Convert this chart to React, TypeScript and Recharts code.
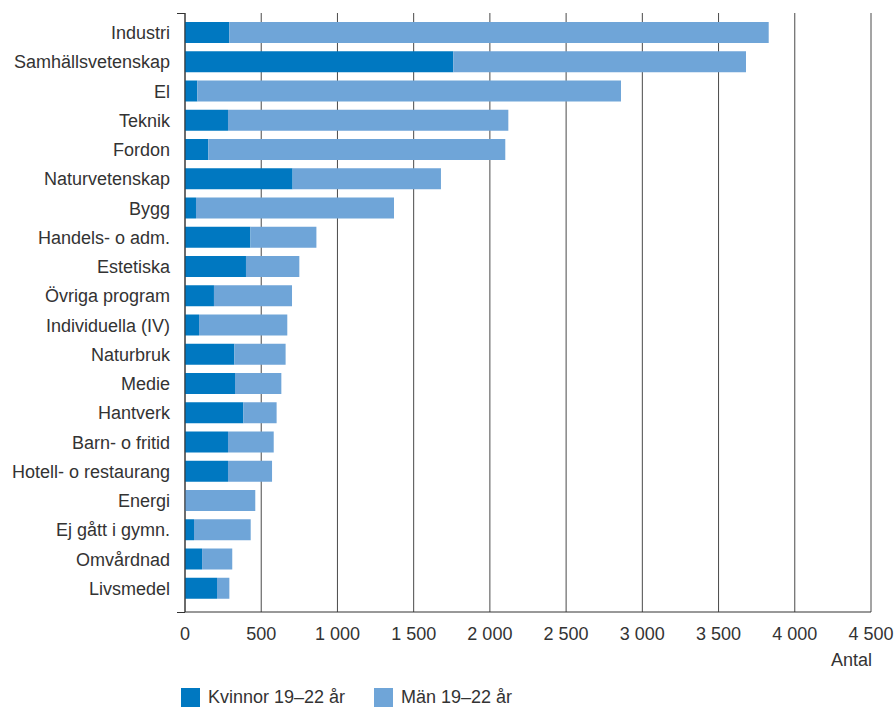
import { BarChart, Bar, XAxis, YAxis, CartesianGrid } from 'recharts'

// Program categories, top to bottom
const categories = [
  'Industri',
  'Samhällsvetenskap',
  'El',
  'Teknik',
  'Fordon',
  'Naturvetenskap',
  'Bygg',
  'Handels- o adm.',
  'Estetiska',
  'Övriga program',
  'Individuella (IV)',
  'Naturbruk',
  'Medie',
  'Hantverk',
  'Barn- o fritid',
  'Hotell- o restaurang',
  'Energi',
  'Ej gått i gymn.',
  'Omvårdnad',
  'Livsmedel',
]

const kvinnor = [291, 1760, 81, 282, 153, 706, 72, 429, 400, 190, 92, 324, 328, 383, 282, 282, 0, 59, 112, 210]
const man = [3538, 1920, 2779, 1839, 1948, 973, 1299, 433, 350, 512, 579, 336, 304, 218, 300, 289, 461, 372, 198, 81]

const xTicks = [0, 500, 1000, 1500, 2000, 2500, 3000, 3500, 4000, 4500]

const DARK = '#0078c1'
const LIGHT = '#6fa5d8'
const TEXT = '#333333'
const AXIS = '#333333'
const FONT = '"Liberation Sans", Arial, sans-serif'
const FS = 18

const data = categories.map((name, i) => ({ name, kvinnor: kvinnor[i], man: man[i] }))

// "1 000" style thousands separator
const fmt = (v: number) => v.toLocaleString('en-US').replace(/,/g, ' ')

function LegendItem({ color, label, left }: { color: string; label: string; left: number }) {
  return (
    <div style={{ position: 'absolute', left, top: 688, display: 'flex', alignItems: 'center', fontSize: FS, lineHeight: '19px' }}>
      <span style={{ width: 19, height: 19, background: color, display: 'inline-block', marginRight: 8 }} />
      <span>{label}</span>
    </div>
  )
}

export default function App() {
  return (
    <div
      style={{
        position: 'absolute',
        left: 0,
        top: 0,
        width: 896,
        height: 707,
        overflow: 'hidden',
        fontFamily: FONT,
        color: TEXT,
      }}
    >
      <BarChart
        layout="vertical"
        width={896}
        height={707}
        data={data}
        margin={{ top: 13, right: 25, bottom: 65, left: 0 }}
      >
        <CartesianGrid horizontal={false} stroke="#4a4a4a" />
        <XAxis
          type="number"
          domain={[0, 4500]}
          ticks={xTicks}
          tickFormatter={fmt}
          interval={0}
          height={30}
          tickLine={false}
          axisLine={{ stroke: AXIS }}
          tickMargin={9}
          tick={{ fill: TEXT, fontSize: FS, fontFamily: FONT }}
        />
        <YAxis
          type="category"
          dataKey="name"
          width={185}
          interval={0}
          tickLine={false}
          axisLine={{ stroke: AXIS }}
          tickMargin={9}
          padding={{ top: 5, bottom: 9 }}
          tick={{ fill: TEXT, fontSize: FS, fontFamily: FONT }}
        />
        <Bar dataKey="kvinnor" stackId="a" fill={DARK} barSize={21} isAnimationActive={false} />
        <Bar dataKey="man" stackId="a" fill={LIGHT} barSize={21} isAnimationActive={false} />
      </BarChart>

      {/* axis end nubs: top tick on the y axis, left overhang of the x axis */}
      <div style={{ position: 'absolute', left: 177, top: 13, width: 8, height: 1, background: AXIS }} />
      <div style={{ position: 'absolute', left: 177, top: 612, width: 8, height: 1, background: AXIS }} />

      <div style={{ position: 'absolute', right: 24, top: 649, fontSize: FS, lineHeight: '22px' }}>Antal</div>

      <LegendItem color={DARK} label="Kvinnor 19–22 år" left={181} />
      <LegendItem color={LIGHT} label="Män 19–22 år" left={374} />
    </div>
  )
}
